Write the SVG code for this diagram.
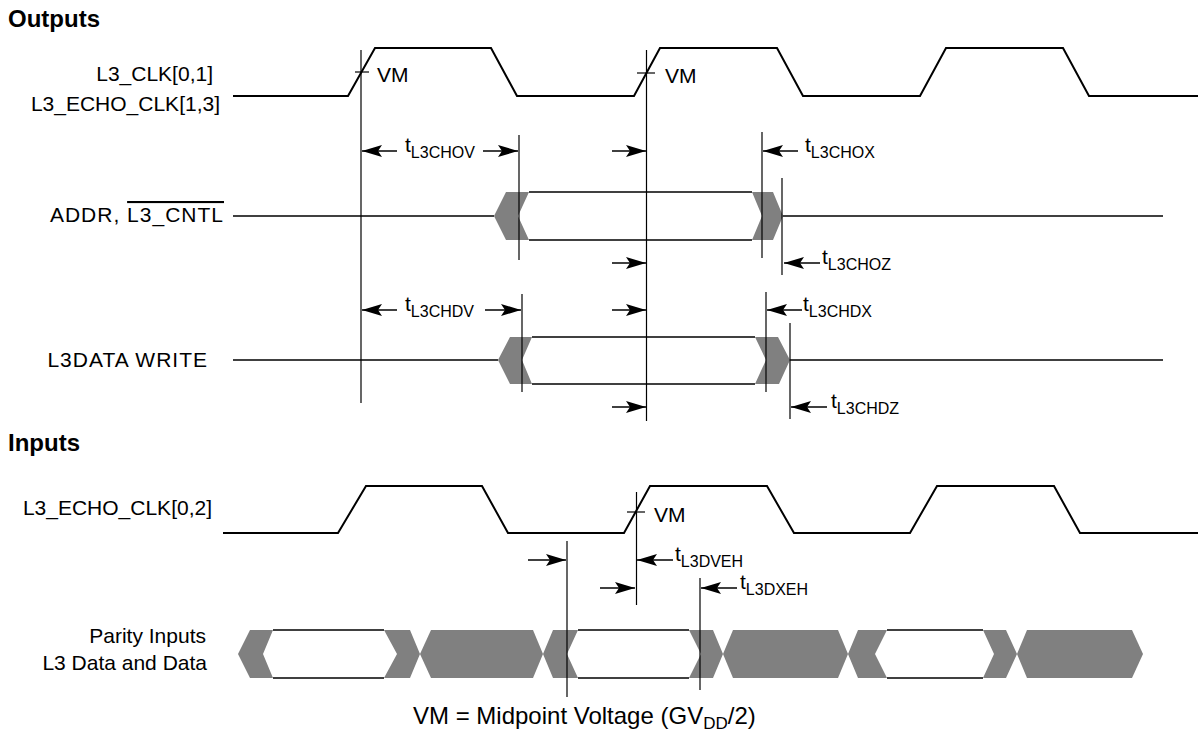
<svg xmlns="http://www.w3.org/2000/svg" width="1198" height="731" viewBox="0 0 1198 731">
<defs>
<style>
text{font-family:"Liberation Sans",Arial,sans-serif;fill:#000}
.lbl{font-size:21px}
.hd{font-size:24px;font-weight:bold}
.sub{font-size:16px}
.wide{letter-spacing:1px}
.clk{fill:none;stroke:#000;stroke-width:2;stroke-linejoin:miter}
.bl{fill:none;stroke:#000;stroke-width:1.5}
.vl{fill:none;stroke:#000;stroke-width:1.2}
.gray{fill:#808080;stroke:none}
.arr{fill:none;stroke:#000;stroke-width:1.3;marker-end:url(#ah)}
</style>
<marker id="ah" markerUnits="userSpaceOnUse" markerWidth="22" markerHeight="14" refX="20" refY="6" orient="auto">
<path d="M0,0 L20,6 L0,12 L4,6 z" fill="#000"/>
</marker>
</defs>
<rect width="1198" height="731" fill="#fff"/>

<g id="headings">
<text class="hd" x="8" y="27">Outputs</text>
<text class="hd" x="8" y="451">Inputs</text>
</g>

<g id="l3clk">
<text class="lbl" x="213" y="81" text-anchor="end">L3_CLK[0,1]</text>
<text class="lbl" x="220" y="111" text-anchor="end">L3_ECHO_CLK[1,3]</text>
<path class="clk" d="M233,96 L348,96 L375,48 L491,48 L517,96 L634,96 L660,48 L777,48 L803,96 L920,96 L946,48 L1063,48 L1089,96 L1198,96"/>
<line class="vl" x1="355" y1="72" x2="369" y2="72"/>
<text class="lbl" x="377" y="82">VM</text>
<line class="vl" x1="637" y1="73" x2="655" y2="73"/>
<text class="lbl" x="665" y="83">VM</text>
</g>

<g id="addr">
<text class="lbl wide" x="224" y="222" text-anchor="end">ADDR, <tspan text-decoration="overline">L3_CNTL</tspan></text>
<line class="bl" x1="233" y1="216" x2="494" y2="216"/>
<polygon class="gray" points="494,216 506,192 529,192 518,216 529,240 506,240"/>
<line class="bl" x1="529" y1="192" x2="752" y2="192"/>
<line class="bl" x1="529" y1="240" x2="752" y2="240"/>
<polygon class="gray" points="752,192 773,192 783,216 773,240 752,240 762,216"/>
<line class="bl" x1="783" y1="216" x2="1163" y2="216"/>
</g>

<g id="l3data">
<text class="lbl wide" x="208" y="367" text-anchor="end">L3DATA WRITE</text>
<line class="bl" x1="233" y1="360" x2="498" y2="360"/>
<polygon class="gray" points="498,360 510,337 532,337 522,360 532,384 510,384"/>
<line class="bl" x1="532" y1="337" x2="755" y2="337"/>
<line class="bl" x1="532" y1="384" x2="755" y2="384"/>
<polygon class="gray" points="755,337 778,337 790,360 779,384 755,384 766,360"/>
<line class="bl" x1="790" y1="360" x2="1163" y2="360"/>
</g>

<g id="echoclk">
<text class="lbl" x="212" y="515" text-anchor="end">L3_ECHO_CLK[0,2]</text>
<path class="clk" d="M223,533 L338,533 L366,486 L482,486 L508,533 L624,533 L650,486 L767,486 L794,533 L910,533 L937,486 L1054,486 L1080,533 L1198,533"/>
<line class="vl" x1="627" y1="512" x2="645" y2="512"/>
<text class="lbl" x="654" y="522">VM</text>
</g>

<g id="parity">
<text class="lbl" x="206" y="643" text-anchor="end">Parity Inputs</text>
<text class="lbl" x="207" y="670" text-anchor="end">L3 Data and Data</text>
<polygon class="gray" points="238,654 250,630 273,630 263,654 273,678 250,678"/>
<line class="bl" x1="273" y1="630" x2="384" y2="630"/>
<line class="bl" x1="273" y1="678" x2="384" y2="678"/>
<polygon class="gray" points="384,630 410,630 420,654 410,678 384,678 397,654"/>
<polygon class="gray" points="420,654 431,630 533,630 543,654 533,678 431,678"/>
<polygon class="gray" points="543,654 553,630 578,630 567,654 578,678 553,678"/>
<line class="bl" x1="578" y1="630" x2="689" y2="630"/>
<line class="bl" x1="578" y1="678" x2="689" y2="678"/>
<polygon class="gray" points="689,630 713,630 723,654 713,678 689,678 701,654"/>
<polygon class="gray" points="723,654 733,630 838,630 848,654 838,678 733,678"/>
<polygon class="gray" points="848,654 858,630 887,630 875,654 887,678 858,678"/>
<line class="bl" x1="887" y1="630" x2="983" y2="630"/>
<line class="bl" x1="887" y1="678" x2="983" y2="678"/>
<polygon class="gray" points="983,630 1006,630 1017,654 1006,678 983,678 994,654"/>
<polygon class="gray" points="1017,654 1027,630 1132,630 1143,654 1132,678 1027,678"/>
</g>

<g id="connectors">
<line class="vl" x1="361" y1="50" x2="361" y2="403"/>
<line class="vl" x1="646.5" y1="50" x2="646.5" y2="421"/>
<line class="vl" x1="519" y1="135" x2="519" y2="260"/>
<line class="vl" x1="762" y1="132" x2="762" y2="258"/>
<line class="vl" x1="782" y1="178" x2="782" y2="275"/>
<line class="vl" x1="522" y1="294" x2="522" y2="392"/>
<line class="vl" x1="766" y1="292" x2="766" y2="392"/>
<line class="vl" x1="790" y1="323" x2="790" y2="419"/>
<line class="vl" x1="636.5" y1="492" x2="636.5" y2="605"/>
<line class="vl" x1="567" y1="541" x2="567" y2="697"/>
<line class="vl" x1="700" y1="578" x2="700" y2="690"/>

<line class="arr" x1="397" y1="151" x2="362" y2="151"/>
<line class="arr" x1="483" y1="151" x2="518" y2="151"/>
<line class="arr" x1="612" y1="151" x2="646" y2="151"/>
<line class="arr" x1="798" y1="151" x2="763" y2="151"/>
<line class="arr" x1="612" y1="263" x2="646" y2="263"/>
<line class="arr" x1="820" y1="263" x2="784" y2="263"/>
<line class="arr" x1="397" y1="310" x2="362" y2="310"/>
<line class="arr" x1="485" y1="310" x2="521" y2="310"/>
<line class="arr" x1="612" y1="310" x2="646" y2="310"/>
<line class="arr" x1="802" y1="310" x2="767" y2="310"/>
<line class="arr" x1="612" y1="407" x2="646" y2="407"/>
<line class="arr" x1="827" y1="407" x2="791" y2="407"/>
<line class="arr" x1="528" y1="560" x2="566" y2="560"/>
<line class="arr" x1="673" y1="560" x2="637" y2="560"/>
<line class="arr" x1="600" y1="588" x2="635" y2="588"/>
<line class="arr" x1="737" y1="588" x2="701" y2="588"/>
</g>

<g id="timing-labels">
<text class="lbl" x="405" y="152">t<tspan class="sub" dy="6">L3CHOV</tspan></text>
<text class="lbl" x="805" y="152">t<tspan class="sub" dy="6">L3CHOX</tspan></text>
<text class="lbl" x="822" y="264">t<tspan class="sub" dy="6">L3CHOZ</tspan></text>
<text class="lbl" x="405" y="311">t<tspan class="sub" dy="6">L3CHDV</tspan></text>
<text class="lbl" x="803" y="311">t<tspan class="sub" dy="6">L3CHDX</tspan></text>
<text class="lbl" x="831" y="408">t<tspan class="sub" dy="6">L3CHDZ</tspan></text>
<text class="lbl" x="675" y="561">t<tspan class="sub" dy="6">L3DVEH</tspan></text>
<text class="lbl" x="740" y="589">t<tspan class="sub" dy="6">L3DXEH</tspan></text>
</g>

<g id="caption">
<text x="413" y="724" font-size="24">VM = Midpoint Voltage (GV<tspan font-size="17" dy="5">DD</tspan><tspan dy="-5">/2)</tspan></text>
</g>
</svg>
